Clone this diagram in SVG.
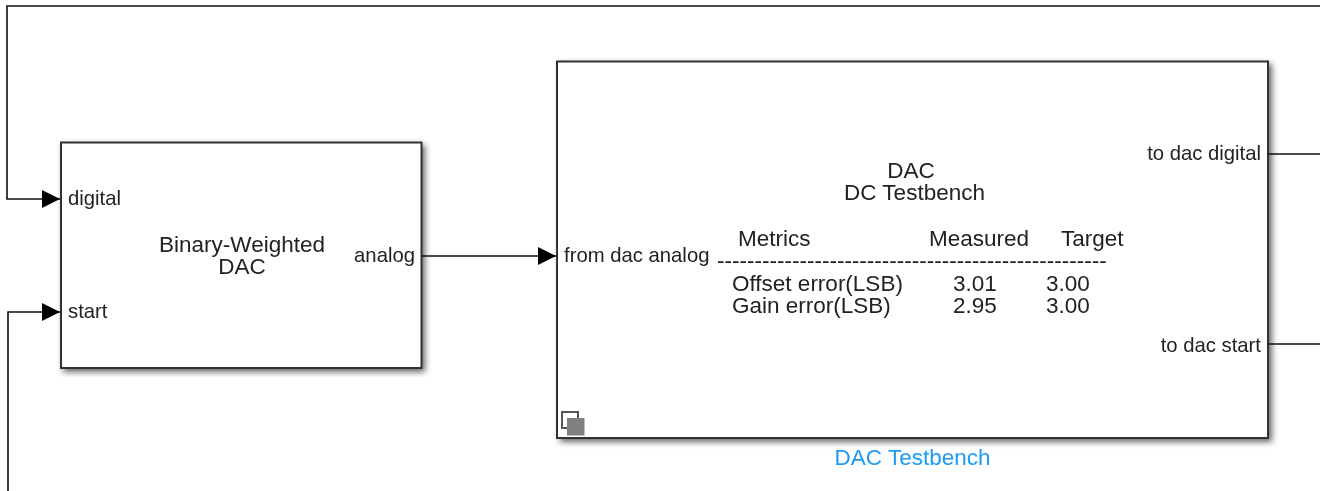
<svg xmlns="http://www.w3.org/2000/svg" width="1320" height="491" viewBox="0 0 1320 491">
  <defs>
    <filter id="shadow" x="-5%" y="-5%" width="110%" height="110%"><feGaussianBlur stdDeviation="3"/></filter>
    <filter id="soft" x="-2%" y="-2%" width="104%" height="104%"><feGaussianBlur stdDeviation="0.4"/></filter>
    <marker id="arrow" markerUnits="userSpaceOnUse" markerWidth="20" markerHeight="20" refX="18" refY="10" orient="auto"><path d="M0 1L18 10L0 19Z" fill="#000"/></marker>
  </defs>
  <style>
    text { font-family: "Liberation Sans", Arial, sans-serif; fill: #222; }
    .soft { filter: url(#soft); }
    .p { font-size: 20.3px; }
    .b { font-size: 22.5px; }
    .m { text-anchor: middle; }
    .e { text-anchor: end; }
    .box { fill: #fff; stroke: #333; stroke-width: 2; }
    .sh { fill: #666; filter: url(#shadow); }
    .line { fill: none; stroke: #111; stroke-width: 1.6; }
  </style>
  <rect width="1320" height="491" fill="#fff"/>
  <g id="binary-weighted-dac" class="soft">
    <rect class="sh" x="63" y="145" width="362" height="227"/>
    <rect class="box" x="61" y="142.500" width="360.500" height="225.500"/>
    <text class="p" x="68" y="205">digital</text>
    <text class="p" x="68" y="318">start</text>
    <text class="p e" x="415" y="262">analog</text>
    <text class="b m" x="242" y="252">Binary-Weighted</text>
    <text class="b m" x="242" y="274">DAC</text>
  </g>
  <g id="dac-testbench" class="soft">
    <rect class="sh" x="560" y="64" width="712" height="378"/>
    <rect class="box" x="557" y="61.500" width="711" height="376.500"/>
    <text class="p" x="564" y="262">from dac analog</text>
    <text class="p e" x="1261" y="160">to dac digital</text>
    <text class="p e" x="1261" y="352">to dac start</text>
    <text class="b m" x="911" y="178">DAC</text>
    <text class="b m" x="914.500" y="200">DC Testbench</text>
    <text class="b" x="738" y="246">Metrics</text>
    <text class="b" x="929" y="246">Measured</text>
    <text class="b" x="1061" y="246">Target</text>
    <text class="b" x="717" y="268">----------------------------------------------------</text>
    <text class="b" x="732" y="291">Offset error(LSB)</text>
    <text class="b" x="732" y="313">Gain error(LSB)</text>
    <text class="b" x="953" y="291">3.01</text>
    <text class="b" x="953" y="313">2.95</text>
    <text class="b" x="1046" y="291">3.00</text>
    <text class="b" x="1046" y="313">3.00</text>
    <rect x="562" y="412" width="16" height="16" fill="none" stroke="#555" stroke-width="2"/>
    <rect x="567" y="418" width="17.500" height="17.500" fill="#808080"/>
    <text x="912.500" y="465" font-size="22.500" text-anchor="middle" style="fill:#1c9bf0">DAC Testbench</text>
  </g>
  <g id="connectors" class="soft">
    <path class="line" marker-end="url(#arrow)" d="M1320 154H1268M1320 6H7V199H60"/>
    <path class="line" marker-end="url(#arrow)" d="M1320 344H1268M8 491V312H60"/>
    <path class="line" marker-end="url(#arrow)" d="M422 256H556"/>
  </g>
</svg>
